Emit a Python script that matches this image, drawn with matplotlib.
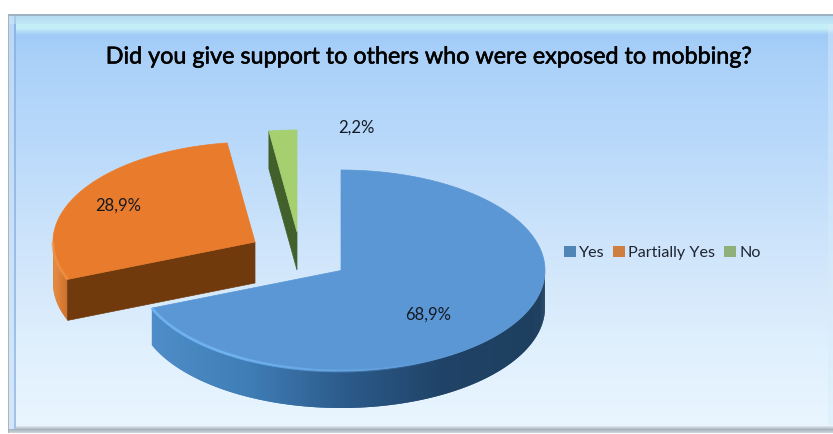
import numpy as np
import matplotlib
matplotlib.use("Agg")
import matplotlib.pyplot as plt
import matplotlib.patheffects as pe
from matplotlib.collections import PolyCollection, LineCollection
from matplotlib.colors import LinearSegmentedColormap, to_rgb
from matplotlib.patches import Patch, Polygon

plt.rcParams['font.family'] = ['Lato', 'DejaVu Sans']

# Survey results
title = "Did you give support to others who were exposed to mobbing?"
categories = ["Yes", "Partially Yes", "No"]
shares = [68.9, 28.9, 2.2]

# Exploded 3D pie geometry, in figure pixels
centers = [(341, 270.5), (255, 242), (297, 232)]
radii = [(204, 100.5), (202, 100), (204, 102)]
depths = [37, 41, 38]
top_colors = ["#5B97D5", "#E97B2C", "#A6CF70"]
cut_colors = [None, "#713A0C", "#42602C"]
side_ramps = [["#4F8DC8", "#3F7DB6", "#2B5A8A", "#1F4266", "#1E3F5E"],
              ["#EF8836", "#E0751F", "#C9631A"],
              ["#42602C", "#42602C"]]
rim_colors = ["#74B8F6", "#F49A50", "#C4E39A"]
label_xy = [(428, 315), (118, 206), (356, 128)]

W, H = 833, 434
fig = plt.figure(figsize=(W / 100, H / 100), dpi=100, facecolor="white")
ax = fig.add_axes([0, 0, 1, 1])
ax.set_xlim(0, W)
ax.set_ylim(H, 0)
ax.axis("off")


def hex_rgb(c):
    return np.array(to_rgb(c))


def background():
    """Vertical sky gradient with a bevelled frame."""
    ys = [33, 60, 130, 250, 350, 432]
    cols = np.array([to_rgb(c) for c in
                     ["#A0CBF7", "#ABD1F9", "#B7D8FA", "#CFE5FB", "#E0F0FD", "#EAF6FF"]])
    grad = np.stack([np.interp(np.arange(H), ys, cols[:, i]) for i in range(3)], axis=1)
    img = np.repeat(grad[:, None, :], W, axis=1)

    def band(y0, y1, x0, x1, c0, c1):
        t = np.linspace(0, 1, y1 - y0)[:, None]
        img[y0:y1, x0:x1] = (hex_rgb(c0) * (1 - t) + hex_rgb(c1) * t)[:, None, :]

    band(16, 24, 9, W, "#B5DDF2", "#BFE6F6")
    band(24, 28, 16, W, "#C6F0F8", "#C4EEF8")
    band(28, 35, 16, W, "#C4EEF8", "#A2CDF7")
    # left bevel
    img[16:432, 9:14] = img[16:432, 9:14] * 0.35 + hex_rgb("#C8DFF5") * 0.65
    img[24:432, 14:16] = hex_rgb("#86ADDC") * 0.7 + img[24:432, 14:16] * 0.3
    img[16:24, 14:16] = hex_rgb("#A9CBE8")
    # right bevel
    img[24:432, W - 5:W] = img[24:432, W - 5:W] * 0.55 + hex_rgb("#D8ECFA") * 0.45
    # bottom bevel
    band(425, 429, 16, W, "#E8F3FB", "#B7C2CC")
    band(429, 433, 9, W, "#A9B4BE", "#C9D2DA")
    # outer hairlines
    img[:14, :] = 1.0
    img[:, :8] = 1.0
    img[433:, :] = 1.0
    img[14:16, 8:] = hex_rgb("#9FB2C2")
    img[14:433, 8:9] = hex_rgb("#A8B4C2")
    return img


ax.imshow(background(), extent=(0, W, H, 0), aspect="auto",
          interpolation="bilinear", zorder=0)
ax.set_xlim(0, W)
ax.set_ylim(H, 0)


def arc(i, a0, a1, n=240):
    """Ellipse points, angles in degrees clockwise from twelve o'clock."""
    t = np.radians(np.linspace(a0, a1, n))
    cx, cy = centers[i]
    rx, ry = radii[i]
    return cx + rx * np.sin(t), cy - ry * np.cos(t)


def draw_slice(i, a0, a1, z):
    c = centers[i]
    depth = depths[i]
    x, y = arc(i, a0, a1)

    # outer wall, only where the rim faces the viewer (90..270 degrees)
    lo, hi = max(a0, 90), min(a1, 270)
    if hi > lo:
        wx, wy = arc(i, lo, hi)
        ramp = LinearSegmentedColormap.from_list("wall", side_ramps[i])
        span = max(wx.max() - wx.min(), 1)
        # each strip overlaps the next two so that no seams show
        quads = [[(wx[k], wy[k]), (wx[k + 2], wy[k + 2]),
                  (wx[k + 2], wy[k + 2] + depth), (wx[k], wy[k] + depth)]
                 for k in range(len(wx) - 2)]
        cols = ramp((wx[:-2] - wx.min()) / span)
        ax.add_collection(PolyCollection(quads, facecolors=cols, edgecolors="none",
                                         zorder=z))

    # visible cut face
    if cut_colors[i] is not None:
        ex, ey = x[0], y[0]
        ax.add_patch(Polygon([c, (ex, ey), (ex, ey + depth), (c[0], c[1] + depth)],
                             closed=True, facecolor=cut_colors[i],
                             edgecolor=cut_colors[i], lw=0.5, zorder=z + 1))

    # top face
    ax.add_patch(Polygon(np.r_[[c], np.c_[x, y]], closed=True, facecolor=top_colors[i],
                         edgecolor=top_colors[i], lw=0.5, zorder=z + 2))

    # soft light along the rim, fading from the left end of the wall
    if hi > lo and i < 2:
        rx, ry = arc(i, lo, hi)
        pts = np.c_[rx, ry]
        segs = np.stack([pts[:-1], pts[1:]], axis=1)
        t = np.linspace(lo, hi, len(segs))
        alpha = np.clip((t - 150) / 70, 0, 0.9)
        rgba = np.c_[np.tile(to_rgb(rim_colors[i]), (len(segs), 1)), alpha]
        ax.add_collection(LineCollection(segs, colors=rgba, linewidths=2.0, zorder=z + 3))


# Slices start at twelve o'clock and run clockwise
edges = np.r_[0, np.cumsum(shares)] / np.sum(shares) * 360
for i, z in zip([2, 1, 0], [10, 20, 30]):
    draw_slice(i, edges[i], edges[i + 1], z)

# Data labels with decimal commas
for share, (lx, ly) in zip(shares, label_xy):
    ax.text(lx, ly, f"{share:.1f}%".replace(".", ","), ha="center", va="center",
            fontsize=12, color="#141A24", zorder=50)

ax.text(429.5, 57, title, ha="center", va="center", fontsize=16.8, color="black",
        zorder=50, path_effects=[pe.withStroke(linewidth=0.4, foreground="black")])

# Legend along the right side
handles = [Patch(facecolor=c, edgecolor="none", label=n)
           for c, n in zip(["#4F86B5", "#D07E40", "#8FB07A"], categories)]
leg = ax.legend(handles=handles, ncol=3, frameon=False, fontsize=11.6,
                loc="center left", bbox_to_anchor=(564 / W, 1 - 253 / H),
                borderpad=0, borderaxespad=0, handlelength=0.73, handleheight=0.7,
                handletextpad=0.2, columnspacing=0.55, labelcolor="#1F2530")
leg.set_zorder(50)

fig.savefig("out.png", dpi=100, facecolor="white")
